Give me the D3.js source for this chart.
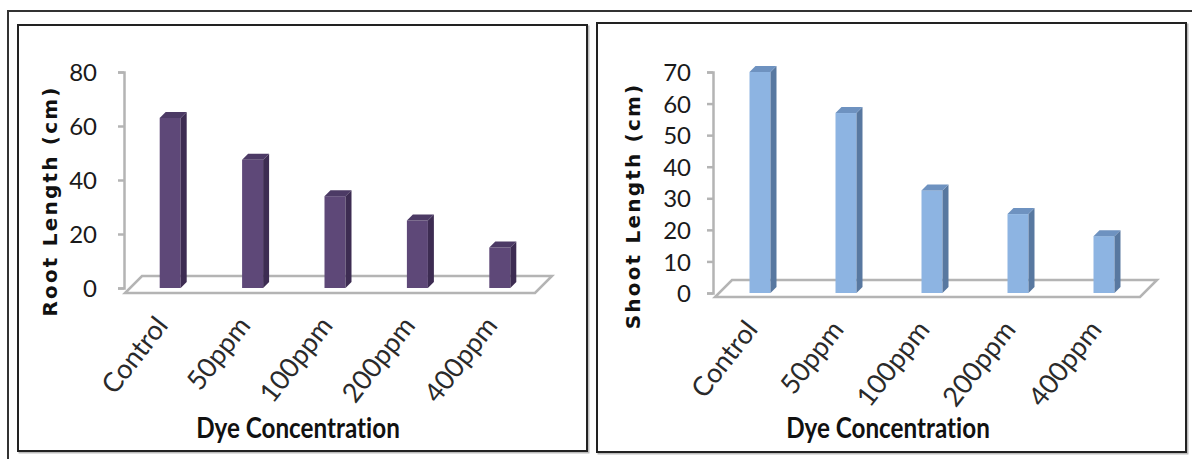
<!DOCTYPE html>
<html>
<head>
<meta charset="utf-8">
<script src="https://cdn.jsdelivr.net/npm/d3@7"></script>
<style>
  body { margin: 0; background: #fff; }
  svg { display: block; }
  text { font-variant-ligatures: none; }
</style>
</head>
<body>
<div id="chart"></div>
<script>
// categories on the x axis, same for both panels
var categories = ["Control", "50ppm", "100ppm", "200ppm", "400ppm"];

// bar heights
var rootLength = [63, 47.5, 34, 25, 15];
var shootLength = [70, 57, 32.5, 25, 18];

// tick labels
var rootTicks = [0, 20, 40, 60, 80];
var shootTicks = [0, 10, 20, 30, 40, 50, 60, 70];

var W = 1192, H = 459;
var calib = "Lato, 'Open Sans', sans-serif";

const svg = d3.select("#chart")
  .append("svg")
  .attr("width", W)
  .attr("height", H);

// outer frame (only top and left edges are visible)
svg.append("path")
  .attr("d", "M8," + H + "V11H" + W)
  .attr("fill", "none")
  .attr("stroke", "#333")
  .attr("stroke-width", 2);

// the two panels
var panels = [
  {
    box: [18, 25, 587, 451],
    values: rootLength, ticks: rootTicks, max: 80,
    axisX: 124, yRange: [288, 72],
    xRange: [129, 541],
    floor: {x0: 125, x1: 535, yFront: 293, dx: 17, dy: -17},
    colors: {front: "#5e4878", side: "#3d2c52", top: "#4c3a65"},
    yTitle: "Root Length (cm)", yTitleX: 50, yTitleY: 201,
    tickGap: 21,
    xTitleX: 298
  },
  {
    box: [597, 23, 1186, 452],
    values: shootLength, ticks: shootTicks, max: 70,
    axisX: 713, yRange: [293, 72],
    xRange: [717, 1147],
    floor: {x0: 715, x1: 1140, yFront: 297, dx: 17, dy: -17},
    colors: {front: "#8db4e2", side: "#5878a0", top: "#6e92c0"},
    yTitle: "Shoot  Length (cm)", yTitleX: 633, yTitleY: 206,
    tickGap: 16,
    xTitleX: 888
  }
];

panels.forEach(function(p) {
  var g = svg.append("g");

  // panel border with a soft shadow
  g.append("rect")
    .attr("x", p.box[0] + 1.5).attr("y", p.box[1] + 1.5)
    .attr("width", p.box[2] - p.box[0]).attr("height", p.box[3] - p.box[1])
    .attr("fill", "none").attr("stroke", "#bbb").attr("stroke-width", 2);
  g.append("rect")
    .attr("x", p.box[0]).attr("y", p.box[1])
    .attr("width", p.box[2] - p.box[0]).attr("height", p.box[3] - p.box[1])
    .attr("fill", "#fff").attr("stroke", "#222").attr("stroke-width", 2);

  var y = d3.scaleLinear().domain([0, p.max]).range(p.yRange);
  var x = d3.scalePoint().domain(categories).range(p.xRange).padding(0.5);

  // floor of the 3d plot
  var f = p.floor;
  g.append("path")
    .attr("d", "M" + f.x0 + "," + f.yFront + "L" + f.x1 + "," + f.yFront +
      "L" + (f.x1 + f.dx) + "," + (f.yFront + f.dy) + "L" + (f.x0 + f.dx) + "," + (f.yFront + f.dy) + "Z")
    .attr("fill", "none")
    .attr("stroke", "#b4b4b4")
    .attr("stroke-width", 2.5);

  // value axis
  var axis = g.append("g")
    .attr("transform", "translate(" + p.axisX + ",0)")
    .call(d3.axisLeft(y).tickValues(p.ticks).tickSize(6).tickPadding(p.tickGap));
  axis.select(".domain").attr("stroke", "#b4b4b4").attr("stroke-width", 2.5);
  axis.selectAll(".tick line").attr("stroke", "#b4b4b4").attr("stroke-width", 2.5);
  axis.selectAll(".tick text")
    .attr("fill", "#1a1a1a")
    .style("font-family", calib)
    .style("font-size", "24px")
    .attr("dy", "0.36em");

  // bars: front face, side face and top face
  var bw = 21, d = 6;
  var bars = g.selectAll("g.bar")
    .data(p.values)
    .enter().append("g")
    .classed("bar", true);

  bars.append("rect")
    .attr("x", (v, i) => x(categories[i]) - bw / 2)
    .attr("y", (v) => y(v))
    .attr("width", bw)
    .attr("height", (v) => y(0) - y(v))
    .attr("fill", p.colors.front);

  bars.append("path")
    .attr("d", function(v, i) {
      var x1 = x(categories[i]) + bw / 2;
      return "M" + x1 + "," + y(v) + "L" + (x1 + d) + "," + (y(v) - d) +
        "L" + (x1 + d) + "," + (y(0) - d) + "L" + x1 + "," + y(0) + "Z";
    })
    .attr("fill", p.colors.side);

  bars.append("path")
    .attr("d", function(v, i) {
      var x0 = x(categories[i]) - bw / 2;
      return "M" + x0 + "," + y(v) + "L" + (x0 + d) + "," + (y(v) - d) +
        "L" + (x0 + bw + d) + "," + (y(v) - d) + "L" + (x0 + bw) + "," + y(v) + "Z";
    })
    .attr("fill", p.colors.top);

  // rotated category labels
  g.selectAll("text.cat")
    .data(categories)
    .enter().append("text")
    .classed("cat", true)
    .attr("transform", (c) => "translate(" + (x(c) - 1) + "," + (p.floor.yFront + 33) + ") rotate(-52)")
    .attr("text-anchor", "end")
    .attr("fill", "#2a2a2a")
    .style("font-family", calib)
    .style("font-size", "27px")
    .text((c) => c);

  // axis titles
  g.append("text")
    .attr("transform", "translate(" + p.yTitleX + "," + p.yTitleY + ") rotate(-90)")
    .attr("text-anchor", "middle")
    .attr("dominant-baseline", "central")
    .attr("fill", "#111")
    .style("font-family", "'DejaVu Sans', Verdana, sans-serif")
    .style("font-weight", "bold")
    .style("font-size", "20px")
    .style("letter-spacing", "2.2px")
    .text(p.yTitle);

  g.append("text")
    .attr("transform", "translate(" + p.xTitleX + ",438) scale(0.97,1.12)")
    .attr("text-anchor", "middle")
    .attr("fill", "#111")
    .style("font-family", calib)
    .style("font-weight", "bold")
    .style("font-size", "25px")
    .text("Dye Concentration");
});
</script>
</body>
</html>
